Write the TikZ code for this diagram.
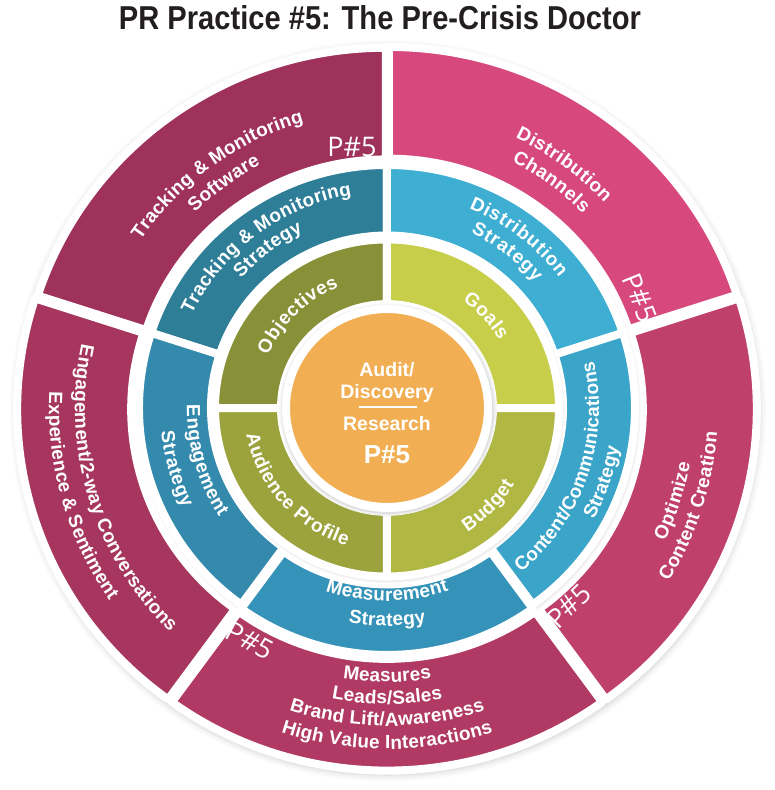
\documentclass[tikz,border=0pt]{standalone}
\usepackage{fontspec}
\setmainfont{Liberation Sans}
\newfontfamily\pfont{Open Sans}
\usepackage{graphicx}
\usetikzlibrary{decorations.text}
\definecolor{titlec}{RGB}{35,31,32}
\definecolor{pkTL}{RGB}{158,50,90}
\definecolor{pkTR}{RGB}{215,73,124}
\definecolor{pkR}{RGB}{192,64,108}
\definecolor{pkB}{RGB}{176,58,99}
\definecolor{pkL}{RGB}{166,54,94}
\definecolor{blTL}{RGB}{46,126,152}
\definecolor{blTR}{RGB}{62,174,210}
\definecolor{blR}{RGB}{58,164,201}
\definecolor{blB}{RGB}{53,146,184}
\definecolor{blL}{RGB}{52,138,172}
\definecolor{grTL}{RGB}{137,145,56}
\definecolor{grTR}{RGB}{198,206,74}
\definecolor{grBR}{RGB}{176,184,67}
\definecolor{grBL}{RGB}{156,163,60}
\definecolor{orc}{RGB}{242,174,82}
\newcommand\annsec[6]{%
  \path[shift={({(#3+#4)/2}:#6)}, fill=#5, draw=white, line width=8pt, line join=round]
    (#3:#2) arc[start angle=#3, end angle=#4, radius=#2] -- (#4:#1)
    arc[start angle=#4, end angle=#3, radius=#1] -- cycle;}
% #1 radius, #2 start, #3 end, #4 size, #5 letter spacing, #6 text
\newcommand\arctext[6]{%
  \path[decorate, decoration={text along path, text align=center, text color=white,
    text={|\fontsize{#4}{#4}\selectfont\bfseries\kern#5pt|#6}}]
    (#2:#1) arc[start angle=#2, end angle=#3, radius=#1];}
\tikzset{
  pstyle/.style={text=white, inner sep=0pt, font=\pfont\fontsize{27}{27}\selectfont},
  ctext/.style={text=white, inner sep=0pt, anchor=base, font=\bfseries\fontsize{19.5}{19.5}\selectfont}
}
\begin{document}
\begin{tikzpicture}[x=1pt,y=1pt]
\useasboundingbox (-387,-382) rectangle (387,408);
\node[anchor=base, inner sep=0pt, text=titlec] (title) at (-7,378)
  {\resizebox{522pt}{24pt}{\bfseries PR Practice \#5: The Pre-Crisis Doctor}};
% soft outer shadow
\foreach \i/\o in {0/0.22,1/0.16,2/0.11,3/0.07,4/0.04,5/0.02}
  \draw[black, opacity=\o, line width=2pt, yscale=0.98] (1,-3) circle[radius=367+2*\i];
\begin{scope}[yscale=0.98]
% outer ring
\annsec{252}{366}{90}{162}{pkTL}{2}
\annsec{252}{366}{18}{90}{pkTR}{3}
\annsec{252}{366}{-54}{18}{pkR}{4}
\annsec{252}{366}{-126}{-54}{pkB}{4}
\annsec{252}{366}{162}{234}{pkL}{4}
% shadow of middle ring
\foreach \i/\o in {0/0.12,1/0.07,2/0.03}
  \draw[black, opacity=\o, line width=1.5pt] (1,-2) circle[radius=249+1.5*\i];
\annsec{176}{248}{90}{162}{blTL}{0}
\annsec{176}{248}{18}{90}{blTR}{0}
\annsec{176}{248}{-54}{18}{blR}{0}
\annsec{176}{248}{-126}{-54}{blB}{4}
\annsec{176}{248}{162}{234}{blL}{0}
\foreach \i/\o in {0/0.12,1/0.07,2/0.03}
  \draw[black, opacity=\o, line width=1.5pt] (1,-2) circle[radius=173+1.5*\i];
% inner ring
\annsec{106}{172}{90}{180}{grTL}{0}
\annsec{106}{172}{0}{90}{grTR}{0}
\annsec{106}{172}{-90}{0}{grBR}{0}
\annsec{106}{172}{180}{270}{grBL}{0}
\foreach \i/\o in {0/0.12,1/0.07,2/0.03}
  \draw[black, opacity=\o, line width=1.5pt] (1,-2) circle[radius=105+1.5*\i];
\path[fill=orc, draw=white, line width=8pt] (0,0) circle[radius=101];
\end{scope}
% outer ring labels
\arctext{298}{161}{91}{19}{0.2}{Tracking {\&} Monitoring}
\arctext{274}{161}{91}{19}{0.2}{Software}
\arctext{299}{89}{19}{19}{0.4}{Distribution}
\arctext{276}{89}{19}{19}{0.4}{Channels}
\arctext{308}{-53}{17}{19}{0.3}{Optimize}
\arctext{331}{-53}{17}{19}{0.3}{Content Creation}
\arctext{274}{-125}{-55}{19}{0.2}{Measures}
\arctext{296}{-125}{-55}{19}{0.2}{Leads/Sales}
\arctext{318}{-125}{-55}{19}{0.2}{Brand Lift/Awareness}
\arctext{341}{-125}{-55}{19}{0.2}{High Value Interactions}
\arctext{312}{157}{237}{19}{0.2}{Engagement/2-way Conversations}
\arctext{338}{156}{236}{19}{0.2}{Experience {\&} Sentiment}
% middle ring labels
\arctext{216}{167}{87}{19}{0.3}{Tracking {\&} Monitoring}
\arctext{195}{167}{87}{19}{0.3}{Strategy}
\arctext{216}{92}{13}{19}{0.8}{Distribution}
\arctext{194}{92}{13}{19}{0.8}{Strategy}
\arctext{212}{-64}{26}{19}{0.2}{Content/Communications}
\arctext{235}{-64}{26}{19}{0.2}{Strategy}
\arctext{193}{-130}{-50}{19}{0.3}{Measurement}
\arctext{218}{-130}{-50}{19}{0.3}{Strategy}
\arctext{200}{156}{236}{19}{0.5}{Engagement}
\arctext{227}{156}{236}{19}{0.5}{Strategy}
% inner ring labels
\arctext{130}{179}{89}{19}{0.5}{Objectives}
\arctext{131}{88}{-2}{19}{0.5}{Goals}
\arctext{148}{-89}{1}{19}{0.5}{Budget}
\arctext{143}{177}{267}{19}{0.5}{Audience Profile}
% centre
\node[ctext] (audit) at (0,31) {Audit/};
\node[ctext] (disc) at (0,10) {Discovery};
\coordinate (rl) at (-28,1);
\coordinate (rr) at (30,1);
\draw[white, line width=1.6pt] (rl) -- (rr);
\node[ctext] (res) at (0,-22) {Research};
\node[ctext, font=\bfseries\fontsize{26}{26}\selectfont] (pc) at (0,-55) {P\#5};
% P#5 tags
\node[pstyle] (p1) at (-35,261) {P\#5};
\node[pstyle, rotate=-68] (p2) at (253,110) {P\#5};
\node[pstyle, rotate=45] (p3) at (182,-198) {P\#5};
\node[pstyle, rotate=-28] (p4) at (-137,-233) {P\#5};
\end{tikzpicture}
\end{document}
